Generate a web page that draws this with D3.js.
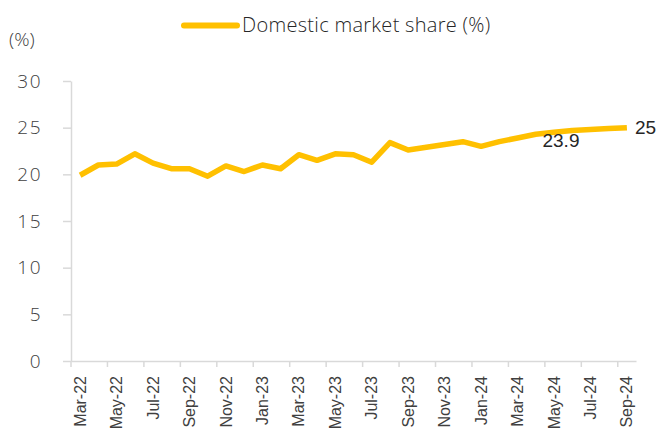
<!DOCTYPE html>
<html>
<head>
<meta charset="utf-8">
<script src="https://cdn.jsdelivr.net/npm/d3@7"></script>
<style>
  body { margin: 0; background: #fff; }
  svg { display: block; }
</style>
</head>
<body>
<svg id="chart"></svg>
<script>
// monthly categories, Mar-22 .. Sep-24
const months = ["Mar-22","Apr-22","May-22","Jun-22","Jul-22","Aug-22","Sep-22","Oct-22","Nov-22","Dec-22",
  "Jan-23","Feb-23","Mar-23","Apr-23","May-23","Jun-23","Jul-23","Aug-23","Sep-23","Oct-23","Nov-23","Dec-23",
  "Jan-24","Feb-24","Mar-24","Apr-24","May-24","Jun-24","Jul-24","Aug-24","Sep-24"];
const share = [19.9,21.0,21.1,22.2,21.2,20.6,20.6,19.8,20.9,20.3,
  21.0,20.6,22.1,21.5,22.2,22.1,21.3,23.4,22.6,22.9,23.2,23.5,
  23.0,23.5,23.9,24.3,24.5,24.7,24.8,24.9,25.0];
const yTicks = [0, 5, 10, 15, 20, 25, 30];
const seriesName = "Domestic market share (%)";
// labelled points: [month, value shown]
const callouts = [["May-24", "23.9", 23.9], ["Sep-24", "25", 25.0]];

const W = 660, H = 432;
const margin = {top: 81, right: 24, bottom: 71, left: 71};
const gold = "#FFC000";
const axisCol = "#d9d9d9";
const textCol = "#404040";

const svg = d3.select("#chart").attr("width", W).attr("height", H);

const x = d3.scaleBand()
  .domain(months)
  .range([margin.left, W - margin.right])
  .padding(0);
const bw = x.bandwidth();
const cx = d => x(d) + bw / 2;

const y = d3.scaleLinear()
  .domain([0, 30])
  .range([H - margin.bottom, margin.top]);

// y axis
const yAxis = svg.append("g")
  .attr("transform", `translate(${margin.left},0)`)
  .call(d3.axisLeft(y).tickValues(yTicks).tickSize(8).tickPadding(21).tickSizeOuter(0));
yAxis.select(".domain").attr("stroke", axisCol).attr("stroke-width", 1.5);
yAxis.selectAll(".tick line").attr("stroke", axisCol).attr("stroke-width", 1.5);
yAxis.selectAll(".tick text")
  .attr("fill", textCol)
  .style("font-family", "'Open Sans', sans-serif")
  .style("font-weight", 300)
  .style("font-size", "19px")
  .style("letter-spacing", "1.5px");

// x axis: labels every other month, ticks on category boundaries
const xAxis = svg.append("g")
  .attr("transform", `translate(0,${H - margin.bottom})`)
  .call(d3.axisBottom(x).tickValues(months.filter((d, i) => i % 2 === 0)).tickSize(6).tickSizeOuter(0));
xAxis.select(".domain").attr("stroke", axisCol).attr("stroke-width", 1.5);
xAxis.selectAll(".tick line")
  .attr("x1", -bw / 2).attr("x2", -bw / 2)
  .attr("stroke", axisCol).attr("stroke-width", 1.5);
xAxis.selectAll(".tick text")
  .attr("fill", textCol)
  .attr("text-anchor", "end")
  .attr("transform", "rotate(-90)")
  .attr("x", -15).attr("y", 0).attr("dy", "0.35em")
  .style("font-family", "'Liberation Sans', Arial, sans-serif")
  .style("font-size", "16px");

// line
const line = d3.line()
  .x((d, i) => cx(months[i]))
  .y(d => y(d));

svg.append("path")
  .datum(share)
  .attr("d", line)
  .attr("fill", "none")
  .attr("stroke", gold)
  .attr("stroke-width", 5.5)
  .attr("stroke-linejoin", "round");

// data labels
svg.selectAll(".callout")
  .data(callouts)
  .join("text")
  .attr("class", "callout")
  .attr("x", (d, i) => i === 0 ? cx(d[0]) + 7 : cx(d[0]) + 8)
  .attr("y", (d, i) => i === 0 ? y(d[2]) + 9 : y(d[2]) + 6)
  .attr("text-anchor", (d, i) => i === 0 ? "middle" : "start")
  .attr("fill", "#262626")
  .style("font-family", "'Liberation Sans', Arial, sans-serif")
  .style("font-size", "19px")
  .text(d => d[1]);

// unit label
svg.append("text")
  .attr("x", 9).attr("y", 46)
  .attr("fill", textCol)
  .style("font-family", "'Open Sans', sans-serif")
  .style("font-weight", 300)
  .style("font-size", "19px")
  .text("(%)");

// legend
const legend = svg.append("g");
legend.append("line")
  .attr("x1", 184).attr("x2", 237)
  .attr("y1", 25.5).attr("y2", 25.5)
  .attr("stroke", gold).attr("stroke-width", 6).attr("stroke-linecap", "round");
legend.append("text")
  .attr("x", 242).attr("y", 32)
  .attr("fill", "#262626")
  .style("font-family", "'Open Sans', sans-serif")
  .style("font-weight", 300)
  .style("font-size", "20px")
  .style("letter-spacing", "0.3px")
  .text(seriesName);
</script>
</body>
</html>
